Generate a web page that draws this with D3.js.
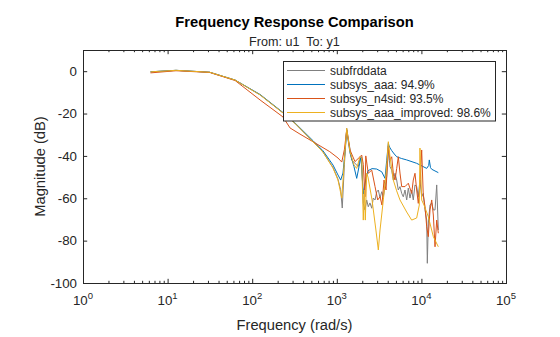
<!DOCTYPE html>
<html>
<head>
<meta charset="utf-8">
<script src="https://cdn.jsdelivr.net/npm/d3@7"></script>
<style>
  body { margin: 0; background: #fff; }
  svg { font-family: Arial, "Liberation Sans", Helvetica, sans-serif; }
  .axis line { stroke: #262626; }
  .tick-label { fill: #262626; font-size: 13.3px; }
  .axis-title { fill: #262626; font-size: 14.7px; }
  .legend-label { fill: #262626; font-size: 12px; }
</style>
</head>
<body>
<div id="chart"></div>
<script>
// frequency (rad/s), magnitude (dB)
const subfrddata = [
  [6.28, -0.3], [12.57, 0.4], [31.4, -0.5], [62.8, -4.2], [124, -11.2], [231, -19.7],
  [318, -24.5], [523, -33.3], [687, -38.2], [902, -45.5], [1033, -51.0], [1110, -56.0],
  [1160, -64.6], [1230, -44.0], [1309, -27.0], [1500, -41.9], [1795, -45.1], [1880, -41.1],
  [1968, -41.9], [2056, -62.4], [2153, -65.5], [2256, -60.8], [2355, -64.0], [2467, -62.2],
  [2587, -64.7], [2700, -59.9], [2831, -60.8], [2963, -57.0], [3097, -56.1], [3243, -59.9],
  [3396, -56.9], [3548, -59.3], [3715, -54.5], [3890, -49.8], [4064, -37.2], [4255, -45.1],
  [4457, -46.7], [4656, -51.4], [4875, -48.2], [5103, -51.4], [5333, -56.1], [5585, -54.5],
  [5848, -57.7], [6111, -59.3], [6399, -56.1], [6701, -60.8], [7001, -55.2], [7331, -59.9],
  [7676, -56.1], [8018, -60.8], [8398, -53.7], [8795, -54.5], [9190, -59.3], [9616, -51.4],
  [10075, -59.3], [10525, -57.7], [11035, -65.5], [11550, -70.3], [11750, -90.7], [12070, -71.7],
  [12640, -63.2], [13240, -62.2], [13840, -65.5], [14490, -65.5], [15170, -53.7], [15850, -75.0]
];

const subsysAaa = [
  [6.28, -0.3], [12.57, 0.4], [31.4, -0.5], [62.8, -4.2], [124, -11.0], [231, -19.5],
  [318, -24.3], [523, -32.8], [687, -37.6], [902, -44.3], [1033, -49.0], [1112, -51.4],
  [1183, -48.1], [1250, -38.0], [1309, -27.8], [1432, -38.6], [1597, -45.1], [1719, -50.6],
  [1830, -45.1], [1932, -40.4], [2056, -58.0], [2213, -50.6], [2337, -47.0], [2609, -46.0],
  [2963, -46.2], [3396, -47.5], [3715, -50.6], [3890, -42.0], [4064, -34.1], [4150, -35.3],
  [4255, -36.2], [4457, -37.5], [4780, -39.1], [5108, -40.4], [5800, -41.2], [6701, -41.9],
  [8795, -43.5], [11550, -45.9], [12200, -44.5], [12400, -41.9], [12800, -45.5], [13240, -46.3],
  [15850, -47.9]
];

const subsysN4sid = [
  [6.28, -0.8], [12.57, 0.2], [31.4, -0.6], [62.8, -4.4], [124, -13.6], [231, -21.6],
  [280, -26.8], [367, -29.7], [523, -33.3], [826, -38.0], [1033, -41.0], [1145, -42.9],
  [1230, -37.0], [1309, -27.8], [1432, -37.2], [1641, -42.7], [1880, -40.4], [1968, -39.6],
  [2056, -44.0], [2153, -59.3], [2200, -40.0], [2355, -48.2], [2587, -46.7], [2831, -54.5],
  [3044, -60.8], [3243, -59.3], [3420, -63.2], [3615, -51.4], [3819, -56.1], [4064, -35.3],
  [4255, -41.9], [4457, -40.4], [4677, -49.0], [4875, -51.4], [5103, -46.0], [5333, -40.4],
  [5585, -48.1], [5848, -54.5], [6399, -54.5], [7001, -52.9], [7676, -57.7], [8018, -51.4],
  [8398, -48.2], [8795, -56.1], [9190, -62.4], [9616, -53.7], [10075, -37.2], [10525, -58.5],
  [11035, -64.0], [11550, -73.4], [12070, -78.1], [12640, -65.5], [13240, -60.8], [13840, -67.9],
  [14490, -82.9], [15170, -70.3], [15850, -76.5]
];

const subsysAaaImproved = [
  [6.28, -0.3], [12.57, 0.4], [31.4, -0.5], [62.8, -4.2], [124, -11.2], [231, -19.7],
  [318, -24.5], [523, -33.3], [687, -38.2], [902, -45.7], [1033, -51.4], [1145, -59.9],
  [1230, -42.0], [1309, -27.0], [1432, -38.0], [1597, -44.3], [1718, -45.9], [1880, -40.4],
  [1968, -41.1], [2056, -70.3], [2114, -56.1], [2173, -70.3], [2256, -48.2], [2337, -50.0],
  [2609, -60.8], [2900, -75.0], [3097, -84.4], [3243, -75.0], [3548, -60.8], [3890, -45.1],
  [4064, -33.3], [4255, -40.4], [4656, -51.4], [5100, -56.5], [5585, -60.8], [6701, -66.5],
  [7676, -70.3], [8795, -69.3], [9440, -63.2], [9616, -36.3], [10075, -60.8], [10735, -63.2],
  [12070, -68.7], [13840, -78.1], [15850, -82.9]
];

const seriesNames = ['subfrddata', 'subsys_aaa: 94.9%', 'subsys_n4sid: 93.5%', 'subsys_aaa_improved: 98.6%'];
const seriesColors = ['#808080', '#0072bd', '#d95319', '#edb120'];

const xMajorTicks = [1, 10, 100, 1000, 10000, 100000];
const xTickExponents = ['0', '1', '2', '3', '4', '5'];
const yTicks = [-100, -80, -60, -40, -20, 0];

class FreqResponsePlot {

  constructor(_config, _series) {
    this.config = {
      parentElement: _config.parentElement,
      containerWidth: 560,
      containerHeight: 337,
      margin: {top: 50, right: 54, bottom: 54, left: 83},
      tickLength: 4.2,
      minorTickLength: 2.2
    }
    this.series = _series
    this.initVis();
  }

  initVis() {
    let vis = this;

    vis.width = vis.config.containerWidth - vis.config.margin.left - vis.config.margin.right;
    vis.height = vis.config.containerHeight - vis.config.margin.top - vis.config.margin.bottom;

    vis.xScale = d3.scaleLog()
        .domain([1, 1e5])
        .range([0, vis.width]);

    vis.yScale = d3.scaleLinear()
        .domain([-100, 10])
        .range([vis.height, 0]);

    // minor log ticks 2..9 of every decade
    vis.xMinorTicks = [];
    for (let d = 0; d < 5; d++) {
      for (let k = 2; k <= 9; k++) vis.xMinorTicks.push(k * Math.pow(10, d));
    }

    vis.svg = d3.select(vis.config.parentElement).append('svg')
        .attr('width', vis.config.containerWidth)
        .attr('height', vis.config.containerHeight);

    vis.svg.append('rect')
        .attr('width', vis.config.containerWidth)
        .attr('height', vis.config.containerHeight)
        .attr('fill', '#fff');

    vis.chart = vis.svg.append('g')
        .attr('transform', `translate(${vis.config.margin.left},${vis.config.margin.top})`);

    vis.chart.append('clipPath')
        .attr('id', 'plot-clip')
      .append('rect')
        .attr('width', vis.width)
        .attr('height', vis.height);

    vis.linesG = vis.chart.append('g')
        .attr('clip-path', 'url(#plot-clip)');

    // ticks on all four sides, pointing inward
    const tl = vis.config.tickLength, ml = vis.config.minorTickLength;
    const axes = [
      [d3.axisBottom(vis.xScale).tickValues(xMajorTicks).tickSize(-tl), `translate(0,${vis.height})`],
      [d3.axisBottom(vis.xScale).tickValues(vis.xMinorTicks).tickSize(-ml), `translate(0,${vis.height})`],
      [d3.axisTop(vis.xScale).tickValues(xMajorTicks).tickSize(-tl), 'translate(0,0)'],
      [d3.axisTop(vis.xScale).tickValues(vis.xMinorTicks).tickSize(-ml), 'translate(0,0)'],
      [d3.axisRight(vis.yScale).tickValues(yTicks).tickSize(-tl), `translate(${vis.width},0)`]
    ];
    axes.forEach(([axis, tr]) => {
      vis.chart.append('g')
          .attr('class', 'axis')
          .attr('transform', tr)
          .call(axis.tickFormat('').tickSizeOuter(0))
          .call(g => g.select('.domain').remove());
    });

    vis.yAxisG = vis.chart.append('g')
        .attr('class', 'axis')
        .call(d3.axisLeft(vis.yScale)
            .tickValues(yTicks)
            .tickSize(-tl)
            .tickSizeOuter(0)
            .tickPadding(6)
            .tickFormat(d => String(d)))
        .call(g => g.select('.domain').remove());
    vis.yAxisG.selectAll('text')
        .attr('class', 'tick-label')
        .attr('fill', null);

    // x labels as 10 with a raised exponent
    xMajorTicks.forEach((v, i) => {
      const t = vis.chart.append('text')
          .attr('class', 'tick-label')
          .attr('x', vis.xScale(v))
          .attr('y', vis.height + 21.5)
          .attr('text-anchor', 'middle');
      t.append('tspan').text('10');
      t.append('tspan')
          .attr('dy', -5.5)
          .style('font-size', '9.5px')
          .text(xTickExponents[i]);
    });

    vis.chart.append('rect')
        .attr('x', 0.5)
        .attr('y', 0.5)
        .attr('width', vis.width)
        .attr('height', vis.height)
        .attr('fill', 'none')
        .attr('stroke', '#262626')
        .attr('stroke-width', 1);

    vis.svg.append('text')
        .attr('x', vis.config.margin.left + vis.width / 2)
        .attr('y', 27)
        .attr('text-anchor', 'middle')
        .style('font-size', '14.7px')
        .style('font-weight', 'bold')
        .attr('fill', '#000')
        .text('Frequency Response Comparison');

    vis.svg.append('text')
        .attr('x', vis.config.margin.left + vis.width / 2)
        .attr('y', 45.5)
        .attr('text-anchor', 'middle')
        .style('font-size', '12.6px')
        .attr('fill', '#262626')
        .attr('xml:space', 'preserve')
        .text('From: u1  To: y1');

    vis.svg.append('text')
        .attr('class', 'axis-title')
        .attr('x', vis.config.margin.left + vis.width / 2)
        .attr('y', 330)
        .attr('text-anchor', 'middle')
        .text('Frequency (rad/s)');

    vis.svg.append('text')
        .attr('class', 'axis-title')
        .attr('transform', `translate(45,${vis.config.margin.top + vis.height / 2}) rotate(-90)`)
        .attr('text-anchor', 'middle')
        .text('Magnitude (dB)');
  }

  renderVis() {
    let vis = this;

    const line = d3.line()
        .x(d => vis.xScale(d[0]))
        .y(d => vis.yScale(d[1]));

    vis.linesG.selectAll('.series')
        .data(vis.series)
        .join('path')
        .attr('class', 'series')
        .attr('fill', 'none')
        .attr('stroke', (d, i) => seriesColors[i])
        .attr('stroke-width', 1)
        .attr('stroke-linejoin', 'round')
        .attr('d', line);

    // legend box
    const legend = vis.svg.append('g')
        .attr('transform', 'translate(283.5,61.5)');
    legend.append('rect')
        .attr('width', 212)
        .attr('height', 59.5)
        .attr('fill', '#fff')
        .attr('stroke', '#262626');
    seriesNames.forEach((name, i) => {
      const y = 9 + i * 14;
      legend.append('line')
          .attr('x1', 3.5).attr('x2', 41.5)
          .attr('y1', y).attr('y2', y)
          .attr('stroke', seriesColors[i]);
      legend.append('text')
          .attr('class', 'legend-label')
          .attr('x', 46.5)
          .attr('y', y)
          .attr('dy', '0.36em')
          .text(name);
    });
  }
}

const plot = new FreqResponsePlot({parentElement: '#chart'},
    [subfrddata, subsysAaa, subsysN4sid, subsysAaaImproved]);
plot.renderVis();
</script>
</body>
</html>
